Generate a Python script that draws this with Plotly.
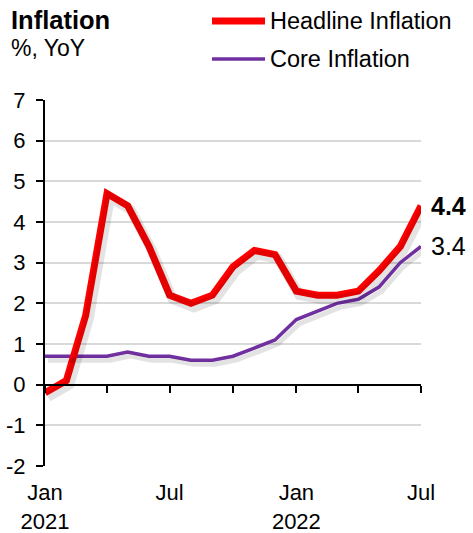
import pandas as pd
import plotly.graph_objects as go

# Monthly year-on-year inflation, Jan 2021 - Jul 2022
months = ["2021-01", "2021-02", "2021-03", "2021-04", "2021-05", "2021-06",
          "2021-07", "2021-08", "2021-09", "2021-10", "2021-11", "2021-12",
          "2022-01", "2022-02", "2022-03", "2022-04", "2022-05", "2022-06",
          "2022-07"]
headline = [-0.2, 0.1, 1.7, 4.7, 4.4, 3.4, 2.2, 2.0, 2.2, 2.9, 3.3, 3.2,
            2.3, 2.2, 2.2, 2.3, 2.8, 3.4, 4.4]
core = [0.7, 0.7, 0.7, 0.7, 0.8, 0.7, 0.7, 0.6, 0.6, 0.7, 0.9, 1.1,
        1.6, 1.8, 2.0, 2.1, 2.4, 3.0, 3.4]

label_months = ["2021-01", "2021-07", "2022-01", "2022-07"]
label_text = ["Jan<br>2021", "Jul", "Jan<br>2022", "Jul"]
quarter_months = ["2021-01", "2021-04", "2021-07", "2021-10", "2022-01",
                  "2022-04", "2022-07"]
y_ticks = [-2, -1, 0, 1, 2, 3, 4, 5, 6, 7]
y_tick_text = ["-2", "-1", "0", "1", "2", "3", "4", "5", "6", "7"]

RED = "#FF0000"
PURPLE = "#7030A0"
FONT = "Liberation Sans, Arial, sans-serif"

W, H = 473, 533
ML, MR, MT, MB = 45, 52, 100, 67
PW, PH = W - ML - MR, H - MT - MB

x = pd.to_datetime(months)
x0, x1 = x[0], x[-1]
y0, y1 = -2, 7

# drop shadow: same lines drawn on overlay axes whose ranges are nudged
dx_px, dy_px = 3, 4
span = x1 - x0
dx = span * (dx_px / PW)
dy = (y1 - y0) * (dy_px / PH)


def paper(px, py):
    return (px - ML) / PW, (H - MB - py) / PH


fig = go.Figure()

for vals, w in ((headline, 10), (core, 5)):
    fig.add_trace(go.Scatter(x=x, y=vals, mode="lines", xaxis="x3", yaxis="y3",
                             line=dict(color="rgba(0,0,0,0.11)", width=w),
                             hoverinfo="skip", showlegend=False))

fig.add_trace(go.Scatter(x=x, y=core, mode="lines", name="Core Inflation",
                         line=dict(color=PURPLE, width=3.5), showlegend=False))
fig.add_trace(go.Scatter(x=x, y=headline, mode="lines", name="Headline Inflation",
                         line=dict(color=RED, width=7), showlegend=False))
# carrier trace for the zero-line axis
fig.add_trace(go.Scatter(x=[x0, x1], y=[0, 0], mode="lines", xaxis="x2",
                         line=dict(width=0), hoverinfo="skip", showlegend=False))

fig.update_layout(
    width=W, height=H,
    margin=dict(l=ML, r=MR, t=MT, b=MB),
    paper_bgcolor="white", plot_bgcolor="white",
    font=dict(family=FONT, size=22, color="black"),
    showlegend=False,
    xaxis=dict(range=[x0, x1], tickvals=pd.to_datetime(label_months),
               ticktext=label_text, ticks="", showline=False, showgrid=False,
               zeroline=False, ticklabelstandoff=11, automargin=False,
               tickfont=dict(size=22)),
    xaxis2=dict(range=[x0, x1], overlaying="x", anchor="free",
                position=(0 - y0) / (y1 - y0),
                tickvals=pd.to_datetime(quarter_months), showticklabels=False,
                ticks="outside", ticklen=7, tickwidth=2, tickcolor="black",
                showline=True, linecolor="black", linewidth=2,
                showgrid=False, zeroline=False, automargin=False),
    xaxis3=dict(range=[x0 - dx, x1 - dx], overlaying="x", visible=False,
                automargin=False),
    yaxis=dict(range=[y0, y1], tickvals=y_ticks, ticktext=y_tick_text,
               ticks="outside", ticklen=7,
               tickwidth=2, tickcolor="black", showline=True, linecolor="black",
               linewidth=2, showgrid=True, gridcolor="#D9D9D9", gridwidth=1.5,
               zeroline=False, ticklabelstandoff=6, automargin=False,
               tickfont=dict(size=22)),
    yaxis3=dict(range=[y0 + dy, y1 + dy], overlaying="y", visible=False,
                anchor="x3", automargin=False),
)

# title block
tx, ty = paper(9, 4)
fig.add_annotation(xref="paper", yref="paper", x=tx, y=ty, xanchor="left",
                   yanchor="top", text="<b>Inflation</b>", showarrow=False,
                   font=dict(size=25.5))
tx, ty = paper(9, 33)
fig.add_annotation(xref="paper", yref="paper", x=tx, y=ty, xanchor="left",
                   yanchor="top", text="%, YoY", showarrow=False,
                   font=dict(size=23))

# legend
for name, color, lw, py in (("Headline Inflation", RED, 7, 21),
                            ("Core Inflation", PURPLE, 3.5, 59)):
    ax0, ay = paper(212, py)
    ax1, _ = paper(265, py)
    fig.add_shape(type="line", xref="paper", yref="paper", x0=ax0, x1=ax1,
                  y0=ay, y1=ay, line=dict(color=color, width=lw),
                  layer="above")
    lx, _ = paper(268, py)
    fig.add_annotation(xref="paper", yref="paper", x=lx, y=ay, xanchor="left",
                       yanchor="middle", text=name, showarrow=False,
                       font=dict(size=23.5))

# end-point value labels
fig.add_annotation(x=x1, y=headline[-1], text=f"<b>{headline[-1]:.1f}</b>",
                   xanchor="left", yanchor="middle", xshift=8, showarrow=False,
                   font=dict(size=25))
fig.add_annotation(x=x1, y=core[-1], text=f"{core[-1]:.1f}",
                   xanchor="left", yanchor="middle", xshift=8, showarrow=False,
                   font=dict(size=25))

fig.write_html("out.html")
